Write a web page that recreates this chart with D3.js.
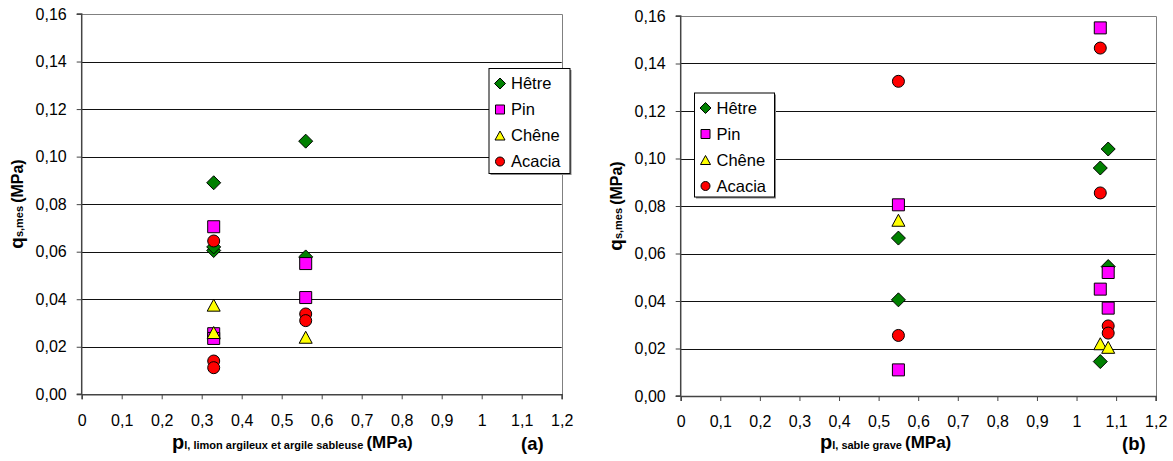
<!DOCTYPE html>
<html><head><meta charset="utf-8">
<script src="https://cdn.jsdelivr.net/npm/d3@7"></script>
<style>
body{margin:0;background:#fff;}
svg{display:block;font-family:Arial,"Liberation Sans",sans-serif;}
</style></head>
<body>
<svg id="c" width="1173" height="461"></svg>
<script>
// ---- data ----
const seriesNames = ["Hêtre", "Pin", "Chêne", "Acacia"];
const seriesColors = ["#008000", "#FF00FF", "#FFFF00", "#FF0000"];
const seriesShapes = ["diamond", "square", "triangle", "circle"];

const xTicks = [0,0.1,0.2,0.3,0.4,0.5,0.6,0.7,0.8,0.9,1,1.1,1.2];
const yTicks = [0,0.02,0.04,0.06,0.08,0.10,0.12,0.14,0.16];

// chart (a): limon argileux et argile sableuse
const hetreA  = [[0.33,0.089],[0.33,0.0605],[0.33,0.062],[0.56,0.1065],[0.56,0.0578]];
const pinA    = [[0.33,0.0705],[0.33,0.0255],[0.33,0.0235],[0.56,0.055],[0.56,0.0407]];
const cheneA  = [[0.33,0.0375],[0.33,0.026],[0.56,0.024]];
const acaciaA = [[0.33,0.0645],[0.33,0.014],[0.33,0.0112],[0.56,0.0338],[0.56,0.031]];

// chart (b): sable grave
const hetreB  = [[0.55,0.0665],[0.55,0.0405],[1.06,0.096],[1.06,0.0145],[1.08,0.104],[1.08,0.0545]];
const pinB    = [[0.55,0.0805],[0.55,0.011],[1.06,0.155],[1.06,0.045],[1.08,0.052],[1.08,0.037]];
const cheneB  = [[0.55,0.074],[1.06,0.022],[1.08,0.0205]];
const acaciaB = [[0.55,0.1325],[0.55,0.0255],[1.06,0.1465],[1.06,0.0855],[1.08,0.0295],[1.08,0.0265]];

const fmtY = d => d3.format(".2f")(d).replace(".", ",");
const fmtX = d => String(+d.toFixed(1)).replace(".", ",");

function shapePath(shape, s){
  const h = s/2;
  if(shape==="diamond") return `M0,${-h-1}L${h+1},0L0,${h+1}L${-h-1},0Z`;
  if(shape==="square") return `M${-h},${-h}H${h}V${h}H${-h}Z`;
  if(shape==="triangle") return `M0,${-h}L${h+0.5},${h}L${-h-0.5},${h}Z`;
  return d3.arc()({innerRadius:0,outerRadius:h,startAngle:0,endAngle:2*Math.PI});
}

const svg = d3.select("#c");

function drawChart(cfg){
  const x = d3.scaleLinear().domain([0,1.2]).range([cfg.x0, cfg.x1]);
  const y = d3.scaleLinear().domain([0,0.16]).range([cfg.y0, cfg.y1]);
  const g = svg.append("g");

  // gridlines
  g.selectAll(".grid").data(yTicks.filter(d=>d>0 && d<0.16)).enter().append("line")
    .attr("x1", x(0)).attr("x2", x(1.2))
    .attr("y1", d=>Math.round(y(d))+0.5).attr("y2", d=>Math.round(y(d))+0.5)
    .attr("stroke","#111").attr("stroke-width",1);
  // top / right border
  g.append("path")
    .attr("d", `M${x(0)},${Math.round(y(0.16))+0.5}H${Math.round(x(1.2))+0.5}V${y(0)}`)
    .attr("fill","none").attr("stroke","#808080").attr("stroke-width",1);

  // axes
  const yAxis = d3.axisLeft(y).tickValues(yTicks).tickSize(5).tickPadding(10).tickFormat(fmtY);
  const xAxis = d3.axisBottom(x).tickValues(xTicks).tickSize(5).tickPadding(15).tickFormat(fmtX);
  const ya = g.append("g").attr("transform",`translate(${x(0)},0)`).call(yAxis);
  const xa = g.append("g").attr("transform",`translate(0,${y(0)})`).call(xAxis);
  [ya,xa].forEach(a=>{
    a.select(".domain").attr("stroke","#444").attr("stroke-width",1.5);
    a.selectAll(".tick line").attr("stroke","#444");
    a.selectAll("text").attr("font-size","16px").attr("fill","#000")
      .attr("font-family","Arial, 'Liberation Sans', sans-serif");
  });
  ya.select(".domain").attr("d", `M-5,${y(0)}H0V${y(0.16)}H-5`);

  // points
  cfg.data.forEach((pts,i)=>{
    g.append("g").selectAll("path").data(pts).enter().append("path")
      .attr("d", shapePath(seriesShapes[i], 12))
      .attr("transform", d=>`translate(${x(d[0])},${y(d[1])})`)
      .attr("fill", seriesColors[i]).attr("stroke","#000").attr("stroke-width",1);
  });

  // legend
  const L = cfg.legend;
  const lg = g.append("g").attr("transform",`translate(${L.x},${L.y})`);
  lg.append("rect").attr("x",1.5).attr("y",1.5).attr("width",L.w).attr("height",L.h).attr("fill","#888");
  lg.append("rect").attr("width",L.w).attr("height",L.h).attr("fill","#fff").attr("stroke","#000");
  seriesNames.forEach((n,i)=>{
    const yy = 15 + i*26;
    lg.append("path").attr("d", shapePath(seriesShapes[i], 9))
      .attr("transform",`translate(11,${yy})`)
      .attr("fill",seriesColors[i]).attr("stroke","#000");
    lg.append("text").attr("x",22).attr("y",yy).attr("dy","0.36em")
      .attr("font-size","16.5px").text(n);
  });

  // x title
  const xt = g.append("text").attr("x",cfg.xt.x).attr("y",cfg.xt.y).attr("font-weight","bold");
  xt.append("tspan").attr("font-size","20px").text("p");
  xt.append("tspan").attr("font-size","11px").text(cfg.xt.sub + " ");
  xt.append("tspan").attr("font-size","17px").attr("dy","-1").text("(MPa)");
  g.append("text").attr("x",cfg.lab.x).attr("y",cfg.lab.y).attr("font-weight","bold")
    .attr("font-size","18.5px").text(cfg.lab.t);

  // y title
  const yt = g.append("text").attr("transform",`translate(${cfg.yt.x},${cfg.yt.y}) rotate(-90)`)
    .attr("text-anchor","middle").attr("font-weight","bold");
  yt.append("tspan").attr("font-size","19px").text("q");
  yt.append("tspan").attr("font-size","11px").text("s,mes ");
  yt.append("tspan").attr("font-size","16px").text("(MPa)");
}

drawChart({x0:81.7, x1:561.7, y0:394.3, y1:14,
  data:[hetreA,pinA,cheneA,acaciaA],
  legend:{x:489, y:68.5, w:81, h:105},
  xt:{x:172, y:449, sub:"l, limon argileux et argile sableuse"},
  lab:{x:521, y:450, t:"(a)"},
  yt:{x:23, y:204}});

drawChart({x0:680.7, x1:1155.7, y0:396, y1:16,
  data:[hetreB,pinB,cheneB,acaciaB],
  legend:{x:694.5, y:93, w:80, h:104},
  xt:{x:820, y:449, sub:"l, sable grave"},
  lab:{x:1122, y:450, t:"(b)"},
  yt:{x:622, y:206}});
</script>
</body></html>
